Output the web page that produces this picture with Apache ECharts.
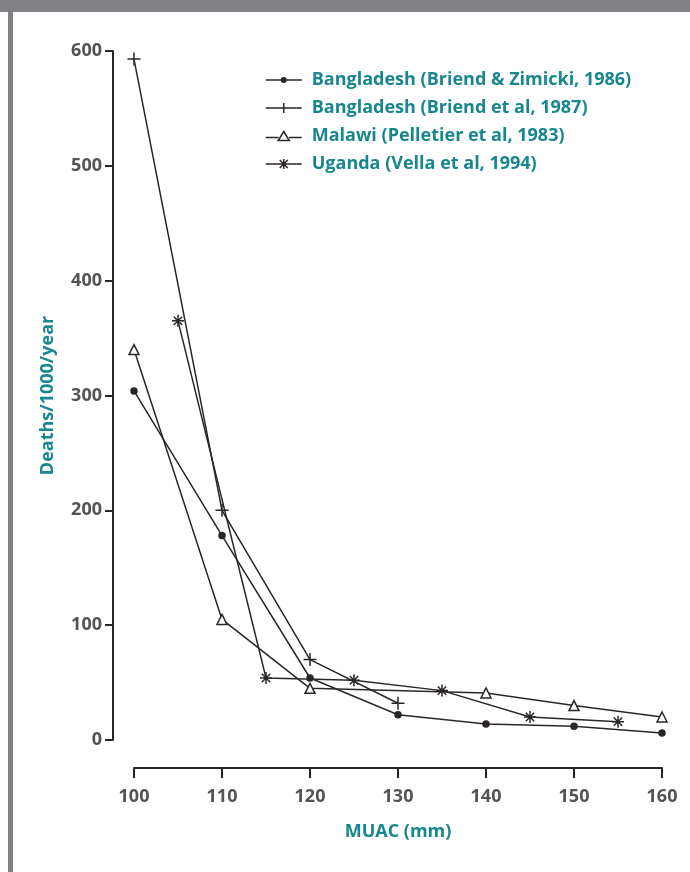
<!DOCTYPE html>
<html>
<head>
<meta charset="utf-8">
<script src="https://cdn.jsdelivr.net/npm/echarts@6/dist/echarts.min.js"></script>
<style>
  html, body { margin: 0; padding: 0; background: #fff; }
  #chart { width: 690px; height: 872px; }
</style>
</head>
<body>
<div id="chart"></div>
<script>
// MUAC (mm) vs deaths/1000/year
const seriesNames = [
  'Bangladesh (Briend & Zimicki, 1986)',
  'Bangladesh (Briend et al, 1987)',
  'Malawi (Pelletier et al, 1983)',
  'Uganda (Vella et al, 1994)'
]
const bzX = [100, 110, 120, 130, 140, 150, 160]
const bzY = [304, 178, 54, 22, 14, 12, 6]
const beX = [100, 110, 120, 130]
const beY = [593, 200, 70, 32]
const mwX = [100, 110, 120, 140, 150, 160]
const mwY = [340, 105, 45, 41, 30, 20]
const ugX = [105, 115, 125, 135, 145, 155]
const ugY = [365, 54, 52, 43, 20, 16]

const teal = '#17868e'
const ink = '#2b2626'
const grey = '#555252'

const pairs = (xs, ys) => xs.map((x, i) => [x, ys[i]])

// plot markers
const plusPath = 'path://M5,0L5,10M0,5L10,5'
const starPath = 'path://M5,0L5,10M0,5L10,5M1.5,1.5L8.5,8.5M8.5,1.5L1.5,8.5'

// legend icons: line with marker in the middle
const legendIcons = [
  'path://M0,6L36,6M20.25,6A2.25,2.25,0,1,1,15.75,6A2.25,2.25,0,1,1,20.25,6Z',
  'path://M0,6L36,6M18,1L18,11',
  'path://M0,7.5L12.8,7.5M23.2,7.5L36,7.5M18,1.5L23.5,10.5L12.5,10.5Z',
  'path://M0,6L36,6M18,1L18,11M14,2L22,10M22,2L14,10'
]

const baseSeries = (name, data, symbol, size, fill) => ({
  name: name,
  type: 'line',
  data: data,
  symbol: symbol,
  symbolSize: size,
  showAllSymbol: true,
  lineStyle: { color: ink, width: 1.5 },
  itemStyle: { color: fill, borderColor: ink, borderWidth: 1.5 },
  emphasis: { disabled: true },
  z: 3
})

const chart = echarts.init(document.getElementById('chart'))

const option = {
  backgroundColor: '#fff',
  animation: false,
  textStyle: { fontFamily: 'Open Sans' },
  graphic: [
    { type: 'rect', shape: { x: 0, y: 0, width: 690, height: 12 }, style: { fill: '#818185' } },
    { type: 'rect', shape: { x: 8, y: 12, width: 5, height: 860 }, style: { fill: '#818185' } }
  ],
  legend: {
    orient: 'vertical',
    left: 260,
    top: 63,
    itemWidth: 36,
    itemHeight: 12,
    itemGap: 4,
    itemStyle: { borderColor: ink, borderWidth: 1.5 },
    data: seriesNames.map((n, i) => ({ name: n, icon: legendIcons[i] })),
    textStyle: {
      color: teal,
      fontSize: 18,
      fontWeight: 'bold',
      fontFamily: 'Open Sans',
      lineHeight: 24,
      padding: [0, 0, 0, 5]
    }
  },
  grid: {
    left: 134,
    right: 28,
    top: 51,
    bottom: 132
  },
  xAxis: {
    type: 'value',
    min: 100,
    max: 160,
    interval: 10,
    offset: 28,
    name: 'MUAC (mm)',
    nameLocation: 'middle',
    nameGap: 55,
    nameTextStyle: { color: teal, fontSize: 18, fontWeight: 'bold', fontFamily: 'Open Sans' },
    axisLine: { show: true, onZero: false, lineStyle: { color: ink, width: 2 } },
    axisTick: { show: true, length: 10, lineStyle: { color: ink, width: 2 } },
    axisLabel: { color: grey, fontSize: 18, fontWeight: 'bold', margin: 20, fontFamily: 'Open Sans' },
    splitLine: { show: false }
  },
  yAxis: {
    type: 'value',
    min: 0,
    max: 600,
    interval: 100,
    offset: 21,
    name: 'Deaths/1000/year',
    nameLocation: 'middle',
    nameGap: 56,
    nameTextStyle: { color: teal, fontSize: 18, fontWeight: 'bold', fontFamily: 'Open Sans' },
    axisLine: { show: true, onZero: false, lineStyle: { color: ink, width: 2 } },
    axisTick: { show: true, length: 8, lineStyle: { color: ink, width: 2 } },
    axisLabel: { color: grey, fontSize: 18, fontWeight: 'bold', margin: 11, fontFamily: 'Open Sans' },
    splitLine: { show: false }
  },
  series: [
    baseSeries(seriesNames[0], pairs(bzX, bzY), 'circle', 6, ink),
    baseSeries(seriesNames[1], pairs(beX, beY), plusPath, 13, ink),
    baseSeries(seriesNames[2], pairs(mwX, mwY), 'triangle', 10, '#fff'),
    baseSeries(seriesNames[3], pairs(ugX, ugY), starPath, 12, ink)
  ]
}

chart.setOption(option)
</script>
</body>
</html>
